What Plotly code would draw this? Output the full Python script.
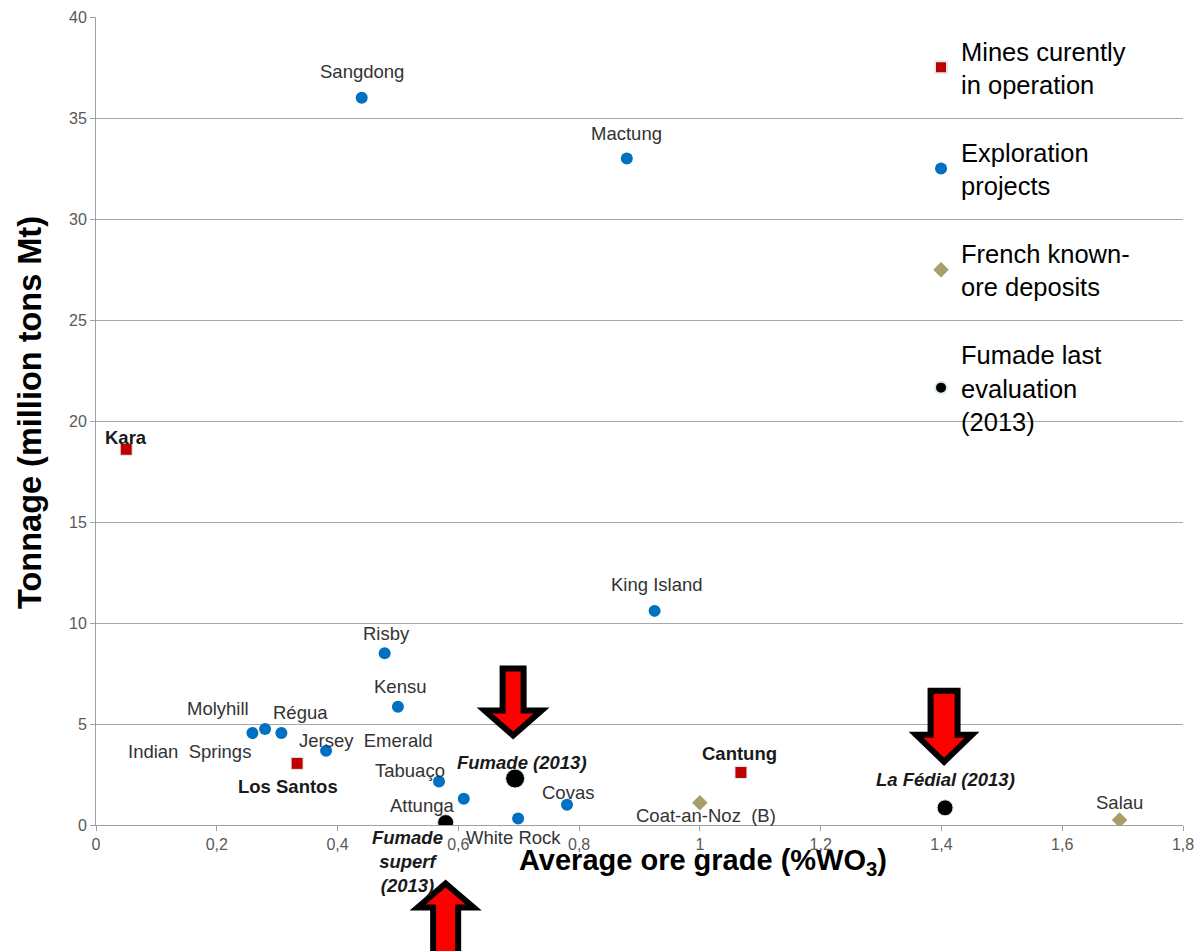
import plotly.graph_objects as go

# ---------------- data ----------------
mines_names = ["Kara", "Los Santos", "Cantung"]
mines_x = [0.05, 0.333, 1.068]
mines_y = [18.6, 3.05, 2.6]

expl_names = ["Sangdong", "Mactung", "King Island", "Risby", "Kensu",
              "Indian  Springs", "Molyhill", "Régua", "Jersey  Emerald",
              "Tabuaço", "Attunga", "Covas", "White Rock"]
expl_x = [0.44, 0.879, 0.925, 0.478, 0.50, 0.259, 0.28, 0.307, 0.381,
          0.568, 0.609, 0.78, 0.699]
expl_y = [36.0, 33.0, 10.6, 8.5, 5.85, 4.55, 4.75, 4.55, 3.68,
          2.15, 1.3, 1.0, 0.32]

french_names = ["Coat-an-Noz  (B)", "Salau"]
french_x = [1.0, 1.695]
french_y = [1.1, 0.25]

fumade_names = ["Fumade (2013)", "La Fédial (2013)", "Fumade<br>superf<br>(2013)"]
fumade_x = [0.694, 1.406, 0.579]
fumade_y = [2.3, 0.85, 0.12]

legend_names = ["Mines curently<br>in operation", "Exploration<br>projects",
                "French known-<br>ore deposits", "Fumade last<br>evaluation<br>(2013)"]

x_ticks = [0, 0.2, 0.4, 0.6, 0.8, 1.0, 1.2, 1.4, 1.6, 1.8]
y_ticks = [0, 5, 10, 15, 20, 25, 30, 35, 40]
XMAX, YMAX = 1.8, 40

# ---------------- styles ----------------
FONT = "Liberation Sans, Arial, sans-serif"
BLUE, RED, KHAKI, BLACK = "#0070C0", "#C00000", "#A89F68", "#000000"
fumade_sizes = [19, 16, 16]

# label pixel offsets (dx, dy up)
label_off = {
    "Kara": (0, 12), "Los Santos": (-9, -23), "Cantung": (-1, 19),
    "Sangdong": (0, 26), "Mactung": (0, 25), "King Island": (2, 26),
    "Risby": (2, 20), "Kensu": (2, 20), "Indian  Springs": (-63, -18),
    "Molyhill": (-47, 21), "Régua": (19, 21), "Jersey  Emerald": (40, 10),
    "Tabuaço": (-29, 11), "Attunga": (-42, -7), "Covas": (1, 12),
    "White Rock": (-5, -19), "Coat-an-Noz  (B)": (6, -13), "Salau": (0, 17),
    "Fumade (2013)": (7, 16), "La Fédial (2013)": (0, 28),
    "Fumade<br>superf<br>(2013)": (-38, -39),
}

fig = go.Figure()
fig.add_trace(go.Scatter(x=mines_x, y=mines_y, mode="markers", name=legend_names[0],
                         legendgroup="a",
                         marker=dict(symbol="square", size=12, color=RED, opacity=1,
                                     line=dict(width=1, color="#DDEEEE"))))
fig.add_trace(go.Scatter(x=expl_x, y=expl_y, mode="markers", name=legend_names[1],
                         legendgroup="b",
                         marker=dict(symbol="circle", size=12, color=BLUE, opacity=1)))
fig.add_trace(go.Scatter(x=french_x, y=french_y, mode="markers", name=legend_names[2],
                         legendgroup="c",
                         marker=dict(symbol="diamond", size=12, color=KHAKI, opacity=1)))
fig.add_trace(go.Scatter(x=fumade_x, y=fumade_y, mode="markers", name=legend_names[3],
                         legendgroup="d",
                         marker=dict(symbol="circle", size=fumade_sizes, color=BLACK,
                                     opacity=1, line=dict(width=1, color="#D8EEEE"))))

annotations = []
def add_labels(names, xs, ys, color, bold=False, italic=False):
    for n, x, y in zip(names, xs, ys):
        dx, dy = label_off[n]
        t = n
        if bold:
            t = "<b>" + t + "</b>"
        if italic:
            t = "<i>" + t + "</i>"
        annotations.append(dict(x=x, y=y, xref="x", yref="y", text=t, showarrow=False,
                                xshift=dx, yshift=dy, xanchor="center", yanchor="middle",
                                font=dict(family=FONT, size=18.5, color=color)))

add_labels(mines_names, mines_x, mines_y, "#1A1A1A", bold=True)
add_labels(expl_names, expl_x, expl_y, "#333333")
add_labels(french_names, french_x, french_y, "#333333")
add_labels(fumade_names, fumade_x, fumade_y, "#1A1A1A", bold=True, italic=True)

# axis titles
annotations.append(dict(x=0.558, y=-0.0458, xref="paper", yref="paper",
                        text="<b>Average ore grade (%WO<sub>3</sub>)</b>", showarrow=False,
                        xanchor="center", yanchor="middle",
                        font=dict(family=FONT, size=29, color="#000000")))
annotations.append(dict(x=-0.0607, y=0.51, xref="paper", yref="paper",
                        text="<b>Tonnage (million tons Mt)</b>", showarrow=False,
                        textangle=-90, xanchor="center", yanchor="middle",
                        font=dict(family=FONT, size=32.5, color="#000000")))

# block arrows (drawn in pixel units, anchored at Fumade points)
def arrow_path(dx, dy, shaft_half, head_half, head_len, total_len, up=False):
    s = 1 if not up else -1
    w = 3
    pts = [
        (dx, dy + s * 4),
        (dx + head_half - 4, dy + s * (head_len - w)),
        (dx + shaft_half - w, dy + s * (head_len - w)),
        (dx + shaft_half - w, dy + s * (total_len - w)),
        (dx - shaft_half + w, dy + s * (total_len - w)),
        (dx - shaft_half + w, dy + s * (head_len - w)),
        (dx - head_half + 4, dy + s * (head_len - w)),
    ]
    return "M " + " L ".join(f"{px},{py}" for px, py in pts) + " Z"

arrow_specs = [
    (fumade_x[0], fumade_y[0], -2, 39, 13.5, 32.5, 32, 74, False),
    (fumade_x[1], fumade_y[1], -1, 42, 16.5, 32, 34, 78, False),
    (fumade_x[2], fumade_y[2], 0, -57, 15.5, 32, 31, 90, True),
]
shapes = [dict(type="rect", xref="paper", yref="paper", x0=0.7645, x1=0.998,
               y0=0.4765, y1=0.996, fillcolor="white", line=dict(width=0),
               layer="between")]
for ax_, ay_, dx, dy, sh, hh, hl, tl, up in arrow_specs:
    shapes.append(dict(type="path", xref="paper", yref="paper",
                       xsizemode="pixel", ysizemode="pixel",
                       xanchor=ax_ / XMAX, yanchor=ay_ / YMAX,
                       path=arrow_path(dx, dy, sh, hh, hl, tl, up),
                       fillcolor="#FF0000", line=dict(color="#000000", width=6),
                       layer="above"))

fig.update_layout(
    width=1196, height=951,
    margin=dict(l=96, r=13, t=17, b=126, autoexpand=False),
    paper_bgcolor="white", plot_bgcolor="white",
    separators=",.",
    font=dict(family=FONT),
    showlegend=True,
    legend=dict(x=0.759, y=0.987, xanchor="left", yanchor="top",
                bgcolor="rgba(0,0,0,0)", traceorder="grouped", tracegroupgap=32,
                font=dict(family=FONT, size=25.5, color="#000000"),
                itemsizing="constant"),
    annotations=annotations,
    shapes=shapes,
    xaxis=dict(range=[0, XMAX], tickvals=x_ticks, showgrid=False, zeroline=False,
               automargin=False, ticklabeloverflow="allow",
               showline=True, linecolor="#A0A0A0", linewidth=1,
               ticks="outside", ticklen=5, tickcolor="#A0A0A0",
               tickfont=dict(family=FONT, size=16, color="#595959")),
    yaxis=dict(range=[0, YMAX], tickvals=y_ticks, showgrid=True, gridcolor="#A6A6A6",
               automargin=False,
               gridwidth=1, zeroline=False, showline=True, linecolor="#A0A0A0",
               linewidth=1, ticks="outside", ticklen=5, tickcolor="#A0A0A0",
               tickfont=dict(family=FONT, size=16, color="#595959")),
)

# remove the page's default body margin so the figure fills the window exactly
fig.write_html("out.html",
               config={"displayModeBar": False},
               post_script="document.body.style.margin='0';"
                           "document.body.style.overflow='hidden';")
